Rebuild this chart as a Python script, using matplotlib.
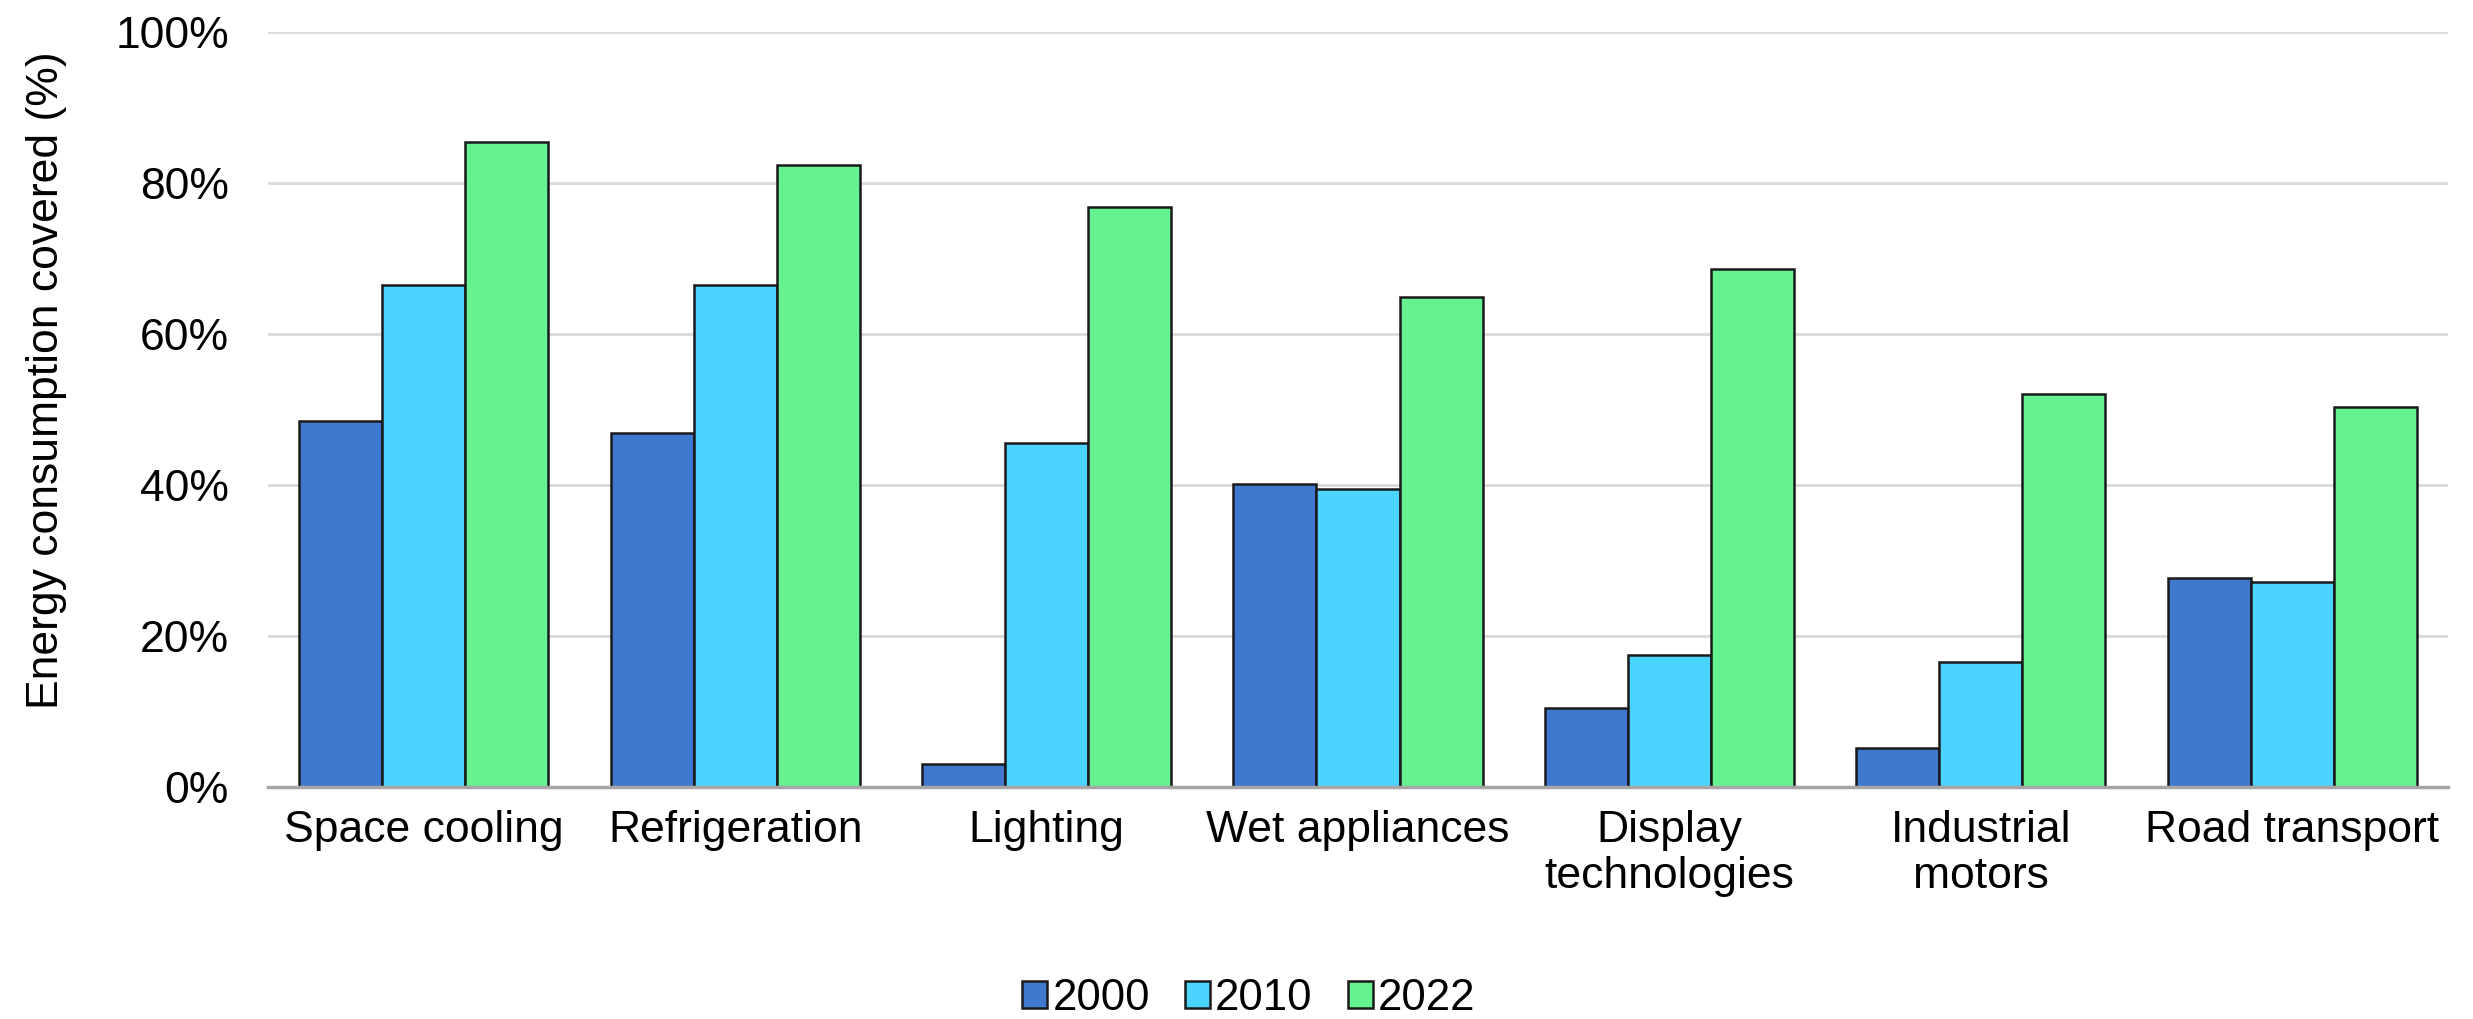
import numpy as np
import matplotlib
matplotlib.use("Agg")
import matplotlib.pyplot as plt
from matplotlib.ticker import PercentFormatter

plt.rcParams['font.family'] = ['Liberation Sans', 'DejaVu Sans']

# Data
categories = ["Space cooling", "Refrigeration", "Lighting", "Wet appliances",
              "Display\ntechnologies", "Industrial\nmotors", "Road transport"]
years = ["2000", "2010", "2022"]
vals_2000 = [48.4, 46.8, 3.1, 40.1, 10.4, 5.2, 27.6]
vals_2010 = [66.4, 66.4, 45.5, 39.5, 17.5, 16.5, 27.1]
vals_2022 = [85.4, 82.3, 76.8, 64.9, 68.5, 52.0, 50.3]
colors = ["#3F78CF", "#4AD4FF", "#66F290"]

# Figure
fig = plt.figure(figsize=(24.73, 10.19), dpi=100)
ax = fig.add_axes([268 / 2473, 1 - 787 / 1019, (2448 - 268) / 2473, (787 - 31.5) / 1019])

x = np.arange(len(categories))
width = 0.8 / 3
for i, (vals, year) in enumerate(zip([vals_2000, vals_2010, vals_2022], years)):
    ax.bar(x + (i - 1) * width, vals, width, color=colors[i], edgecolor="#1a1a1a",
           linewidth=1.8, label=year, zorder=3)

ax.set_xlim(-0.5, len(categories) - 0.5)
ax.set_ylim(0, 100)
ax.set_yticks(np.arange(0, 101, 20))
ax.yaxis.set_major_formatter(PercentFormatter(decimals=0))
ax.set_xticks(x)
ax.set_xticklabels(categories, fontsize=32, linespacing=1.17)
ax.tick_params(axis="y", labelsize=32, length=0, pad=28)
ax.tick_params(axis="x", length=0, pad=16.5)
ax.grid(axis="y", color="#d9d9d9", linewidth=2, zorder=0)
for s in ["top", "right", "left"]:
    ax.spines[s].set_visible(False)
ax.spines["bottom"].set_color("#a6a6a6")
ax.spines["bottom"].set_linewidth(2.5)
ax.spines["bottom"].set_zorder(4)

ax.set_ylabel("Energy consumption covered (%)", fontsize=32)
ax.yaxis.set_label_coords(-0.092, 0.539)

fig.legend(loc="center", bbox_to_anchor=(0.505, 1 - 998 / 1019), ncol=3, frameon=False,
           fontsize=31.5, handlelength=0.57, handleheight=0.57, handletextpad=0.12,
           columnspacing=0.8)

fig.savefig("out.png", dpi=100)
